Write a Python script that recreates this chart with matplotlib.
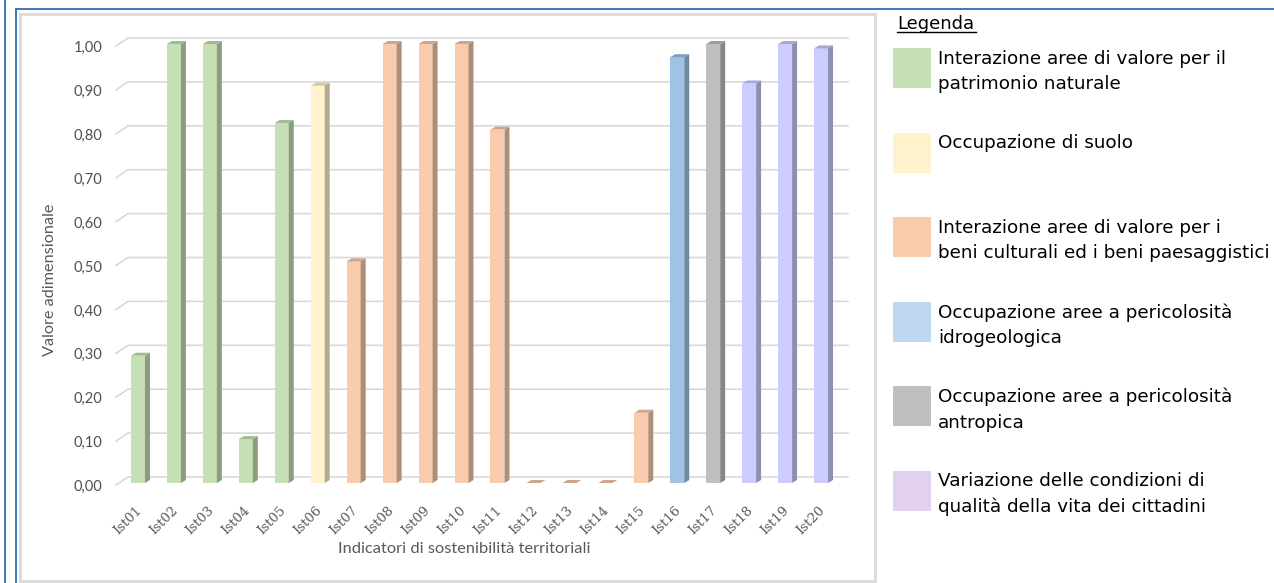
import matplotlib
matplotlib.use("Agg")
import matplotlib.pyplot as plt
from matplotlib.patches import Polygon, Rectangle
from matplotlib.lines import Line2D

# Dati del grafico
indicatori = ["Ist%02d" % i for i in range(1, 21)]
valori = [0.29, 1.00, 1.00, 0.10, 0.82, 0.905, 0.505, 1.00, 1.00, 1.00,
          0.805, 0.0, 0.0, 0.0, 0.16, 0.97, 1.00, 0.91, 1.00, 0.99]
gruppo = [0, 0, 0, 0, 0, 1, 2, 2, 2, 2, 2, 2, 2, 2, 2, 3, 4, 5, 5, 5]
tick_y = [0.0, 0.1, 0.2, 0.3, 0.4, 0.5, 0.6, 0.7, 0.8, 0.9, 1.0]

legenda = ["Interazione aree di valore per il\npatrimonio naturale",
           "Occupazione di suolo",
           "Interazione aree di valore per i\nbeni culturali ed i beni paesaggistici",
           "Occupazione aree a pericolosità\nidrogeologica",
           "Occupazione aree a pericolosità\nantropica",
           "Variazione delle condizioni di\nqualità della vita dei cittadini"]

# colori: fronte, lato, sopra, legenda
col_fronte = ["#C5E0B4", "#FFF2CC", "#F8CBAD", "#9DC3E6", "#BFBFBF", "#CCCCFF"]
col_lato = ["#8A9D7E", "#B3AA8F", "#AE8E79", "#6E89A2", "#868686", "#8F8FB3"]
col_sopra = ["#A3B895", "#D1C7A8", "#CBA78F", "#819FBC", "#9E9E9E", "#A8A8D2"]
col_legenda = ["#C5E0B4", "#FFF2CC", "#F8CBAD", "#BDD7EE", "#BFBFBF", "#E2D0F0"]

W, H = 1274, 583
fig = plt.figure(figsize=(W / 100, H / 100), dpi=100)


def fx(x):
    return x / W


def fy(y):
    return 1 - y / H


# cornici blu del documento e riquadro grigio del grafico
blu = "#2E6DB4"
fig.add_artist(Line2D([fx(4.5), fx(4.5)], [0, 1], color=blu, lw=1.3))
fig.add_artist(Line2D([fx(16), fx(16)], [0, fy(9)], color=blu, lw=1.3))
fig.add_artist(Line2D([fx(16), 1], [fy(9), fy(9)], color=blu, lw=1.3))
fig.add_artist(Rectangle((fx(20), fy(581)), fx(855), (581 - 14) / H,
                         transform=fig.transFigure, fill=False,
                         edgecolor="#D9D9D9", lw=2))

# assi: x=0 -> 138 px, 36 px per unità; y=0 -> 483 px, 439 px per unità
xmin, xmax = -22 / 36, 19 + 27 / 36
ymax = 1.04
ax = fig.add_axes([fx(116), fy(483), (848 - 116) / W, ymax * 439 / H])
ax.set_xlim(xmin, xmax)
ax.set_ylim(0, ymax)
ax.axis("off")

# griglia "3D"
gdx, gdy = 12 / 36, 6 / 439
for v in tick_y:
    ax.plot([xmin, xmin + gdx, xmax], [v - 2 / 439, v + gdy, v + gdy],
            color="#D9D9D9", lw=1.2, zorder=1, clip_on=False)
    ax.text(xmin - 14 / 36, v - 4 / 439, ("%.2f" % v).replace(".", ","),
            ha="right", va="center", fontsize=10.5, color="#505050",
            family="Lato")

# barre con lato e faccia superiore
xs = list(range(len(valori)))
w, dx, dy = 14 / 36, 5 / 36, 3 / 439
ax.bar(xs, valori, width=w, color=[col_fronte[g] for g in gruppo],
       zorder=3, linewidth=0)
for x, v, g in zip(xs, valori, gruppo):
    r = x + w / 2
    l = x - w / 2
    ax.add_patch(Polygon([(r, 0), (r + dx, dy), (r + dx, v + dy), (r, v)],
                         closed=True, facecolor=col_lato[g], lw=0, zorder=3))
    ax.add_patch(Polygon([(l, v), (l + dx, v + dy), (r + dx, v + dy), (r, v)],
                         closed=True, facecolor=col_sopra[g], lw=0, zorder=3))
    ax.text(x + 2 / 36, -25 / 439, indicatori[x], rotation=45, ha="right",
            va="center", rotation_mode="anchor", fontsize=9.5,
            color="#595959", family="DejaVu Serif")

fig.text(fx(50), fy(280), "Valore adimensionale", rotation=90, ha="center",
         va="center", fontsize=11.7, color="#595959", family="Lato")
fig.text(fx(464), fy(549), "Indicatori di sostenibilità territoriali",
         ha="center", va="center", fontsize=11.8, color="#595959",
         family="Lato")

# legenda a destra
fig.text(fx(897), fy(29), "Legenda", ha="left", va="baseline",
         fontsize=13, color="black")
fig.add_artist(Line2D([fx(897), fx(976)], [fy(32), fy(32)], color="black",
                      lw=1))
for k, testo in enumerate(legenda):
    y0 = 48 + k * 84.5
    fig.add_artist(Rectangle((fx(893), fy(y0 + 40)), fx(38), 40 / H,
                             transform=fig.transFigure,
                             facecolor=col_legenda[k], lw=0))
    fig.text(fx(938), fy(y0 + 2), testo, ha="left", va="top",
             fontsize=13.2, color="black", linespacing=1.5)

fig.savefig("out.png", dpi=100)
